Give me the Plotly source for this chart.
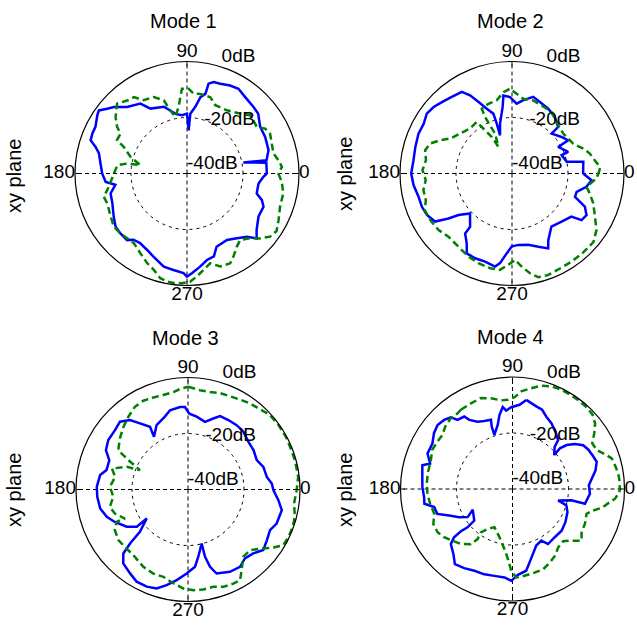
import plotly.graph_objects as go

W, H = 637, 625
FONT = "Liberation Sans, Arial, Helvetica, sans-serif"
BLUE = "#0000ff"
GREEN = "#008000"

titles = ["Mode 1", "Mode 2", "Mode 3", "Mode 4"]
plane_label = "xy plane"
angle_ticks = [0, 90, 180, 270]
angle_labels = ["0", "90", "180", "270"]
db_ticks = [-40, -20, 0]
db_labels = ["-40dB", "-20dB", "0dB"]

# (azimuth in degrees, level in dB) for each mode: solid = E_theta, dashed = E_phi
m1_eth = [(0, -11.5), (357.5, -12.7), (352, -14.2), (344, -14.1), (340.4, -11.6), (336.5, -10.2),
          (329, -10.2), (321, -8), (317, -6), (313.5, -8.9), (307.6, -10.8), (301, -12.3),
          (292, -11.8), (288, -8.9), (283, -8.3), (278, -6.4), (273, -4.4), (270, -3.2),
          (268, -4.4), (262, -5.2), (256, -5.7), (248, -8), (242.5, -9.2), (236, -10),
          (231, -9.6), (228, -8), (222, -8), (216.7, -8.2), (210.6, -9.6), (201.8, -11.3),
          (194.6, -11.8), (189, -14.1), (186, -10.8), (180, -9.7), (173.4, -8.9), (167, -7.7),
          (163.8, -6), (161, -3.6), (157, -3.3), (153, -3.3), (147, -1.8), (144.4, -1.3),
          (141, -3.3), (137.7, -4.7), (132, -8), (123.7, -10), (119.4, -13.4), (109, -14.8),
          (101, -18.3), (94.9, -19.1), (90, -18.6), (87.8, -24.6), (86.8, -18.6), (82.9, -16),
          (80, -12.3), (77, -10.8), (76.5, -7), (73.8, -6), (69.7, -5.8), (63.9, -5),
          (58.7, -4.6), (52.7, -5.7), (45, -6.4), (40, -6.8), (32.5, -9), (25, -9.2),
          (16, -9.7), (9.5, -11.2), (11, -19.5), (7.8, -11.4), (0, -11.5)]

m1_eph = [(0, -7.4), (355, -6), (348.3, -4.9), (340.3, -4.7), (333, -3.3), (327.3, -2),
          (322.8, -2.7), (318.4, -5.1), (314.3, -7.7), (308.7, -9.6), (304.3, -8.4), (299.2, -6),
          (295.7, -4.4), (289.7, -4.7), (284.5, -6.9), (279.8, -5.1), (275.5, -3.1), (271.8, -1.4),
          (267.4, -0.8), (263, -0.6), (259.5, -0.8), (255.7, -1.4), (251, -3.6), (246, -5),
          (239.7, -7), (232.7, -8.7), (227.3, -8.5), (222, -8), (216, -7.7), (209.5, -8.7),
          (200.6, -9.6), (195.6, -9.1), (191.8, -10.9), (186.2, -12.6), (180, -13.9), (173.2, -15),
          (170.5, -18.4), (169.9, -23.1), (163.6, -19), (157.2, -15.5), (154.5, -12.3), (149, -12.3),
          (146.3, -10), (141.7, -7.5), (135, -4.7), (129.3, -6.3), (124.8, -6.8), (120.6, -9.6),
          (113.5, -10.2), (107.6, -12.6), (104.7, -16.7), (101.6, -19.3), (97.1, -16), (95, -12.6),
          (93.4, -9.7), (88.9, -9.7), (85.2, -11.4), (80.5, -11.2), (73, -11.5), (67.5, -13.6),
          (57.7, -13.3), (48.4, -11.4), (42.6, -9.3), (33.7, -10), (29.9, -7.8), (25.6, -7.1),
          (19.4, -7.9), (13, -8.3), (8.3, -7), (4, -6), (0, -7.4)]

m2_eth = [(0, -14.6), (355.2, -11.5), (349.9, -13), (344.2, -16), (339.7, -16), (335.5, -11.4),
          (330.8, -9.5), (326.2, -10.1), (324, -13.8), (315.8, -15.3), (306.6, -16.4), (298.6, -12.9),
          (295.8, -10.3), (289.8, -12.2), (282.8, -13.9), (275, -14.4), (269.7, -13.9), (266.2, -11.4),
          (262.4, -7.7), (259.7, -6.2), (253, -7.1), (246.5, -7), (240.5, -7.2), (237, -10.3),
          (232, -12.8), (231.8, -15.8), (223.6, -19.3), (217.8, -15.8), (215.3, -12.2), (212, -7.6),
          (206, -6.2), (200.3, -5.7), (194, -5.6), (186.7, -4.6), (180, -4), (172.3, -4.5),
          (164.6, -4.2), (156.9, -3.7), (150.6, -3.8), (144.9, -2.8), (139.7, -3.3), (134.5, -4.3),
          (128.2, -5.2), (121.6, -5.8), (118.2, -8.3), (115, -11.8), (111.3, -15.2), (107.3, -17.6),
          (107, -21.4), (107.4, -25.7), (103.5, -21.7), (98, -16), (96.3, -12), (91.5, -12.7),
          (86.2, -15), (81.2, -13.5), (74.5, -11.6), (68.7, -12.6), (60.8, -13.5), (52.8, -14.7),
          (45.2, -16.6), (45.2, -19.9), (36.4, -18), (30.6, -16.7), (29.9, -21), (21, -18.5),
          (20.3, -21.1), (12, -20), (9.3, -14.2), (0, -14.6)]

m2_eph = [(2.2, -8.7), (356.6, -9.8), (349.9, -13), (345.6, -11.3), (339.8, -9.1), (333.3, -6.9),
          (326.2, -3.7), (319.9, -2), (311.9, -2), (304, -2), (296.8, -2), (289.4, -1.5),
          (284.2, -1.8), (280.2, -3.8), (275.9, -6.6), (272, -9.1), (267.7, -7.4), (262.9, -5.3),
          (257, -5.3), (249.5, -5.8), (242.3, -6.5), (233.8, -7.6), (224.9, -8), (217.6, -6.9),
          (209.6, -6.4), (202.7, -6.2), (197.2, -7.8), (190.6, -7.8), (184.4, -9.1), (177.9, -8),
          (171.2, -8.9), (165, -7.9), (159.9, -8.9), (155.2, -11.7), (150.6, -14.6), (142.4, -16.6),
          (133, -18), (124.4, -17.7), (121.9, -21.8), (119, -25), (117, -29.3), (113, -24.6),
          (115.5, -17.7), (115, -14.5), (108.7, -13.7), (101.8, -13.3), (96, -10.8), (91.3, -9.7),
          (86.7, -11.5), (81.4, -13), (73.8, -12.8), (66.5, -13.5), (57.2, -13.9), (49.2, -15.7),
          (37.9, -16.8), (26.1, -15.7), (19.3, -13.1), (14.4, -11.3), (9.1, -10.1), (4.3, -8.5),
          (2.2, -8.7)]

m3_eth = [(359.6, -9.5), (353.3, -7.5), (347.6, -5.7), (339, -6.1), (333.6, -7.3), (327.2, -6.5),
          (321.2, -5.5), (315.6, -7.4), (309.6, -8.1), (303.9, -6.7), (297, -7), (288.8, -8.3),
          (285.9, -11.3), (284.2, -15.2), (284.2, -20.1), (278.7, -15.7), (275.2, -12.3), (269.1, -10),
          (262.9, -7.4), (257.4, -5), (252.4, -2.9), (247, -2.3), (240.9, -2.3), (235.4, -3.6),
          (228.8, -4.9), (224.7, -7.5), (223, -11.7), (221.4, -17.1), (215, -22), (216, -17.4),
          (211.3, -14.4), (203.9, -11.4), (198.6, -9.4), (192.2, -7.9), (184.6, -7.5), (178.3, -7.4),
          (170.7, -8.2), (166.6, -10.1), (159.6, -10), (154.4, -7.5), (148.2, -6.5), (140.9, -6.4),
          (135.1, -5.7), (129.9, -7.7), (126, -10.8), (121.2, -13.8), (122.8, -17.6), (116, -14.4),
          (107.6, -12.7), (102.8, -11), (95.5, -10.4), (92.1, -10.5), (89, -12.9), (83.2, -13.8),
          (75.9, -15.1), (70.4, -13.1), (66.4, -11.4), (59.8, -11.3), (52.9, -11.2), (46.2, -11.4),
          (38.3, -12.5), (31, -12.7), (23.1, -13.3), (16.7, -11.9), (9.1, -11.5), (4.1, -10),
          (359.6, -9.5)]

m3_eph = [(89.8, -3.3), (83.1, -4.3), (77.3, -4.3), (71.7, -3.7), (65.8, -3.5), (60, -2.9),
          (54.2, -2.1), (48, -1.5), (42.8, -0.5), (35.7, -0.3), (28.1, -0.3), (22.7, -0.5),
          (15.3, -0.4), (6.5, -0.4), (359.6, -1.2), (352.5, -1.8), (345.7, -0.6), (340.5, -0.3),
          (335.1, -0.3), (329.7, -0.6), (325.8, -3.1), (321.3, -6.3), (315.6, -9), (309.4, -8.9),
          (303.6, -5.4), (299.8, -2.6), (295.7, -2.7), (290, -3), (284.6, -4.1), (278.7, -3.9),
          (273, -4), (267.3, -4.6), (261.1, -6.1), (254.2, -7.6), (247.6, -7.5), (240, -8.1),
          (230.2, -9.5), (222.3, -9.5), (216, -9.3), (209.1, -10.1), (204.4, -12), (204.7, -15.2),
          (198.2, -12.5), (192.5, -11.4), (185.6, -13.2), (178, -12.1), (170.2, -13.6), (164.6, -11.8),
          (159.7, -16.7), (158, -21.5), (153.8, -16.3), (150.6, -11.4), (143.1, -9.6), (135.9, -7.9),
          (129.4, -6.4), (122.7, -4.9), (116.7, -4.5), (110.6, -4.9), (104.7, -5.1), (98.5, -4.8),
          (93.6, -3.8), (89.8, -3.3)]

m4_eth = [(81.2, -7.8), (85.2, -9.8), (90.9, -10.8), (94.6, -11.9), (96.8, -10.5), (100, -13.2),
          (103, -16.5), (108.5, -19.6), (108.4, -16.5), (107.3, -14.1), (112.5, -13.7), (117.4, -12.9),
          (122, -10.9), (123.7, -8.9), (128.5, -8.5), (130.7, -6.2), (134.7, -5.3), (139.5, -4.8),
          (144.6, -5.6), (150.4, -7.1), (157.3, -7.1), (162.8, -9.2), (165.2, -6.7), (172.4, -7.5),
          (178.7, -7.8), (185.2, -8.3), (189.5, -8.1), (193, -11.3), (198.3, -11.7), (202.7, -15.5),
          (207.8, -18.4), (212.1, -21.1), (207.5, -24), (219.5, -22.3), (220.4, -18.9), (219.3, -16.2),
          (219.6, -12.9), (221.7, -10.5), (227.8, -8.6), (232.5, -6.2), (238.6, -6.9), (245, -7.8),
          (251.7, -7.9), (258.2, -8.3), (264.8, -8.3), (269.2, -7.2), (273.6, -9.3), (279.5, -10.4),
          (283.1, -13.1), (287.5, -15.7), (292.8, -18.1), (299.2, -18.9), (302.9, -16.6), (311.2, -17.1),
          (319.7, -17), (327.9, -17.7), (337.2, -18.7), (343.1, -19.9), (346, -23.2), (349.1, -18.6),
          (348.5, -13.6), (356.5, -12.3), (2.8, -12.7), (8.6, -11.1), (12.7, -9.6), (17.9, -8.4),
          (22.1, -8.9), (27.6, -9.5), (31.8, -10.3), (35.8, -12.6), (39.1, -15.1), (40.6, -17.7),
          (39.2, -20.8), (45, -18.7), (47, -16.1), (53.2, -14.4), (59.4, -12.7), (64.9, -11.5),
          (69.5, -9.8), (73.9, -9.3), (77.7, -8.6), (81.2, -7.8)]

m4_eph = [(123.1, -6.2), (115.8, -6), (109.1, -5.6), (103.3, -6.7), (97.3, -8.1), (93, -8.1),
          (88.7, -7.2), (84.9, -5), (79.5, -3.4), (74.4, -1.7), (69.4, -0.8), (64.3, -0.5),
          (58.8, -0.5), (53.1, -0.5), (48.6, -0.6), (43.2, -0.9), (38.5, -2.3), (34.2, -4.7),
          (29.7, -7.2), (24.8, -6.8), (20.6, -4.7), (17.1, -2.9), (12.1, -2.3), (7.4, -1.8),
          (2.9, -1.6), (358.4, -1.8), (354.6, -3.2), (351.6, -5.4), (348.1, -7.4), (345.1, -10.2),
          (341.5, -12.1), (334.3, -11.3), (328, -10.9), (323.2, -9.2), (318.8, -12), (314.1, -14),
          (308, -13.5), (302.3, -11.7), (296.9, -10.5), (290.8, -9.3), (284.8, -9.1), (277.9, -8.7),
          (272.4, -8.4), (269.1, -10.8), (266.2, -15), (262.4, -18.3), (254.8, -22.2), (244.7, -24.9),
          (238.1, -23.2), (233.9, -20.8), (235.1, -18.2), (232.9, -15.3), (226.8, -13.1), (220.7, -11.7),
          (215.2, -10.1), (210, -9.1), (203.8, -9.1), (197.5, -10.7), (190.1, -10.1), (183.2, -9.6),
          (176.4, -9.3), (168.6, -9.2), (161.6, -9.2), (154.1, -8.1), (147.8, -8.3), (142.4, -8.4),
          (136.2, -7), (131.1, -6.5), (125.9, -6.6), (123.1, -6.2)]

modes = [(m1_eth, m1_eph), (m2_eth, m2_eph), (m3_eth, m3_eph), (m4_eth, m4_eph)]

# subplot layout in pixels: circle centre, radius, title and side-label positions
centers = [(187, 173.5), (512, 173.5), (188, 489.5), (512.5, 489)]
RADIUS = 112
title_pos = [(183.5, 21), (510, 21), (185, 338), (510.5, 337)]
side_pos = [(14, 176), (345, 174), (14, 490), (345, 490)]
DB_LABEL_ANGLE = 72
db_label_pos = ["top right", "middle right", "top right"]
angle_label_pos = ["middle right", "top center", "middle left", "bottom center"]

fig = go.Figure()
annotations = []
for i, ((eth, eph), (cx, cy)) in enumerate(zip(modes, centers)):
    sub = "polar" if i == 0 else f"polar{i + 1}"
    for series, color, dash in ((eth, BLUE, "solid"), (eph, GREEN, "7px,4px")):
        fig.add_trace(go.Scatterpolar(
            theta=[p[0] for p in series], r=[p[1] for p in series],
            mode="lines", line=dict(color=color, width=2.5, dash=dash),
            subplot=sub, showlegend=False, hoverinfo="skip"))
    # dB ring labels
    fig.add_trace(go.Scatterpolar(
        theta=[DB_LABEL_ANGLE] * len(db_ticks), r=db_ticks, text=db_labels,
        mode="text", textposition=db_label_pos, cliponaxis=False,
        textfont=dict(family=FONT, size=19, color="black"),
        subplot=sub, showlegend=False, hoverinfo="skip"))
    # azimuth labels just outside the 0 dB circle
    fig.add_trace(go.Scatterpolar(
        theta=angle_ticks, r=[0] * len(angle_ticks), text=angle_labels,
        mode="text", textposition=angle_label_pos, cliponaxis=False,
        textfont=dict(family=FONT, size=19, color="black"),
        subplot=sub, showlegend=False, hoverinfo="skip"))

    fig.update_layout({sub: dict(
        domain=dict(x=[(cx - RADIUS) / W, (cx + RADIUS) / W],
                    y=[1 - (cy + RADIUS) / H, 1 - (cy - RADIUS) / H]),
        bgcolor="white",
        angularaxis=dict(rotation=0, direction="counterclockwise",
                         tickmode="array", tickvals=angle_ticks, showticklabels=False,
                         showgrid=True, gridcolor="black", gridwidth=1, griddash="4px,3px",
                         showline=True, linecolor="black", linewidth=1.2,
                         ticks="inside", ticklen=4, tickcolor="black"),
        radialaxis=dict(range=[-40, 0], tickmode="array", tickvals=[-20],
                        showticklabels=False, ticks="", showline=False,
                        showgrid=True, gridcolor="black", gridwidth=1, griddash="3px,4px"),
    )})

    tx, ty = title_pos[i]
    annotations.append(dict(text=titles[i], x=tx / W, y=1 - ty / H, xref="paper", yref="paper",
                             xanchor="center", yanchor="middle", showarrow=False,
                             font=dict(family=FONT, size=20, color="black")))
    sx, sy = side_pos[i]
    annotations.append(dict(text=plane_label, x=sx / W, y=1 - sy / H, xref="paper", yref="paper",
                            xanchor="center", yanchor="middle", textangle=-90, showarrow=False,
                            font=dict(family=FONT, size=20, color="black")))

fig.update_layout(width=W, height=H, margin=dict(l=0, r=0, t=0, b=0),
                  paper_bgcolor="white", plot_bgcolor="white",
                  annotations=annotations, showlegend=False)

fig.write_html("out.html")
